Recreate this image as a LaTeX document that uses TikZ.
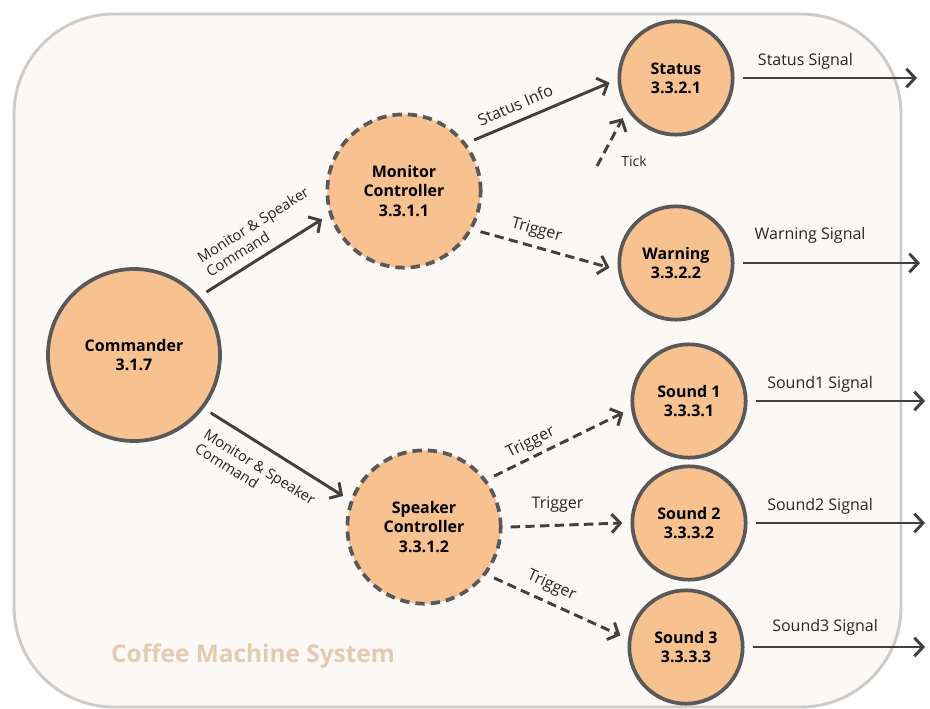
\documentclass[tikz,border=0pt]{standalone}
\usepackage{fontspec}
\setmainfont{Open Sans}
\usetikzlibrary{arrows.meta}

\definecolor{bgfill}{HTML}{FCF8F5}
\definecolor{bgline}{HTML}{CDCAC7}
\definecolor{procfill}{HTML}{F8C190}
\definecolor{procline}{HTML}{595959}
\definecolor{arrline}{HTML}{404040}
\definecolor{titletan}{HTML}{E3CBB0}

\tikzset{
    proc/.style={circle, draw=procline, fill=procfill, line width=2.8pt,
        inner sep=0pt, outer sep=7.5pt, align=center,
        font=\bfseries\fontsize{12}{14.5}\selectfont},
    bigproc/.style={proc, minimum size=129pt},
    ctrlproc/.style={proc, minimum size=115pt, dash pattern=on 7pt off 4.5pt},
    smallproc/.style={proc, minimum size=85pt},
    flow/.style={draw=arrline, line width=2.2pt, -{Straight Barb[length=6.5pt, width=14pt]}},
    trig/.style={flow, dash pattern=on 7pt off 4pt},
    lbl/.style={font=\fontsize{12}{14}\selectfont, text=black!85},
    cmdlbl/.style={font=\fontsize{11}{12.5}\selectfont, text=black!85, align=left}
}

\begin{document}
\begin{tikzpicture}[x=0.75pt, y=-0.75pt]
    \useasboundingbox (0,0) rectangle (930,709);

    % System boundary
    \draw[fill=bgfill, draw=bgline, line width=2.2pt, rounded corners=75pt]
        (14,14) rectangle (901,707);
    \node[font=\bfseries\fontsize{18.3}{20}\selectfont, text=titletan] (sysname) at (253,656) {Coffee Machine System};

    % Nodes
    \node[bigproc] (cmd) at (134,355) {Commander\\3.1.7};
    \node[ctrlproc] (mon) at (404,191) {Monitor\\Controller\\3.3.1.1};
    \node[ctrlproc] (spk) at (424,527) {Speaker\\Controller\\3.3.1.2};
    \node[smallproc] (status) at (676,78) {Status\\3.3.2.1};
    \node[smallproc] (warn) at (676,263) {Warning\\3.3.2.2};
    \node[smallproc] (snda) at (689,401) {Sound 1\\3.3.3.1};
    \node[smallproc] (sndb) at (689,523) {Sound 2\\3.3.3.2};
    \node[smallproc] (sndc) at (686,647) {Sound 3\\3.3.3.3};

    % Free ends
    \coordinate (tickin) at (597,166);
    \coordinate (statusout) at (917,78);
    \coordinate (warnout) at (920,263);
    \coordinate (sndaout) at (925,401);
    \coordinate (sndbout) at (925,523);
    \coordinate (sndcout) at (925,647);

    % Arrows
    \draw[flow] (cmd.41) -- (mon.199) node[pos=0.55, above=3pt, sloped, cmdlbl] {Monitor \& Speaker\\Command};
    \draw[flow] (cmd.323) -- (spk.159) node[pos=0.45, below=6pt, sloped, cmdlbl] {Monitor \& Speaker\\Command};
    \draw[flow] (mon.36) -- (status.184) node[pos=0.35, above=3pt, sloped, lbl] {Status Info};
    \draw[trig] (mon.332) -- (warn.184) node[pos=0.4, above=2pt, sloped, lbl] {Trigger};
    \draw[trig] (tickin) -- (status.217);
    \node[font=\fontsize{10.5}{12}\selectfont, text=black!85] (tick) at (634,161) {Tick};
    \draw[trig] (spk.36) -- (snda.190) node[pos=0.33, above, sloped, lbl] {Trigger};
    \draw[trig] (spk.0) -- (sndb.180) node[pos=0.42, above=5pt, lbl] {Trigger};
    \draw[trig] (spk.324) -- (sndc.170) node[pos=0.4, above=2pt, sloped, lbl] {Trigger};

    % Outputs
    \draw[flow] (status.0) -- (statusout) node[pos=0.36, above=2pt, lbl] {Status Signal};
    \draw[flow] (warn.0) -- (warnout) node[pos=0.38, above=10pt, lbl] {Warning Signal};
    \draw[flow] (snda.0) -- (sndaout) node[pos=0.38, above=2pt, lbl] {Sound1 Signal};
    \draw[flow] (sndb.0) -- (sndbout) node[pos=0.38, above=2pt, lbl] {Sound2 Signal};
    \draw[flow] (sndc.0) -- (sndcout) node[pos=0.42, above=4pt, lbl] {Sound3 Signal};
\end{tikzpicture}
\end{document}
